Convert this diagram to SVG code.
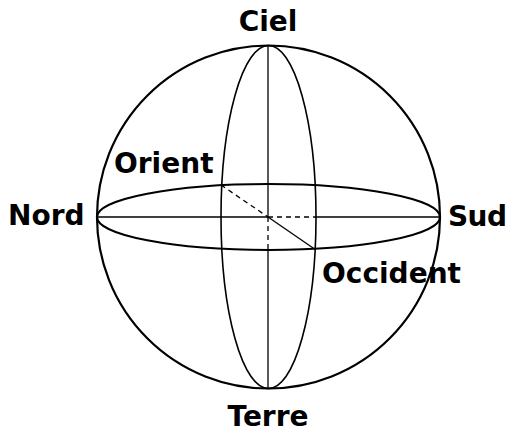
<svg xmlns="http://www.w3.org/2000/svg" width="508" height="434" viewBox="0 0 508 434">
<style>
text{font-family:"DejaVu Sans",sans-serif;font-weight:bold;font-size:28px;fill:#000}
.s{fill:none;stroke:#000}
.d{stroke-dasharray:5,4}
</style>
<rect width="508" height="434" fill="#fff"/>
<g id="sphere"><circle class="s" cx="268.5" cy="217" r="171.5" stroke-width="2.2"/></g>
<g id="meridian"><ellipse class="s" cx="268.5" cy="217" rx="47.5" ry="171.5" stroke-width="1.6"/></g>
<g id="equator"><ellipse class="s" cx="268.5" cy="217" rx="171.5" ry="33" stroke-width="2"/></g>
<g id="connectors" class="s" stroke-width="1.3">
<line x1="268" y1="45.5" x2="268" y2="217"/>
<line class="d" x1="268" y1="217" x2="268" y2="250"/>
<line x1="268" y1="250" x2="268" y2="388.5"/>
<line x1="97" y1="217" x2="268" y2="217"/>
<line class="d" x1="268" y1="217" x2="316" y2="217"/>
<line x1="316" y1="217" x2="440" y2="217"/>
<line class="d" x1="221" y1="185" x2="268" y2="217"/>
<line x1="268" y1="217" x2="316" y2="250"/>
</g>
<g id="ciel"><text x="268" y="31" text-anchor="middle">Ciel</text></g>
<g id="nord"><text x="8" y="225">Nord</text></g>
<g id="sud"><text x="448" y="226" font-size="27" letter-spacing="-0.6">Sud</text></g>
<g id="orient"><text x="114" y="173">Orient</text></g>
<g id="occident"><text x="322" y="283">Occident</text></g>
<g id="terre"><text x="268" y="426" text-anchor="middle">Terre</text></g>
</svg>
